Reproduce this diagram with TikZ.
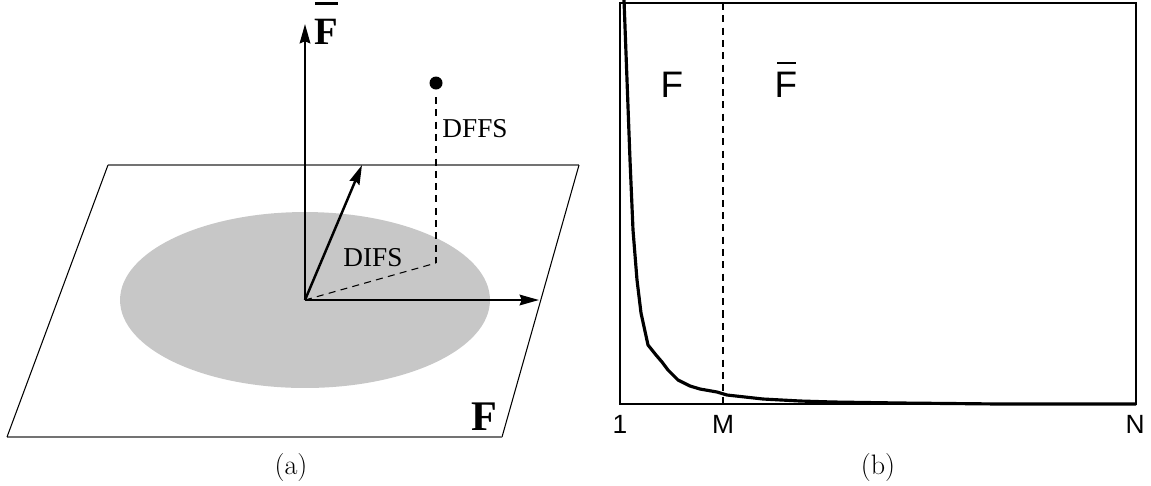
\documentclass[tikz,border=0pt]{standalone}
\usepackage{fontspec}
\newfontfamily\timesfont{Liberation Serif}
\newfontfamily\helvfont{Liberation Sans}
\usetikzlibrary{positioning,arrows.meta}

\begin{document}
\begin{tikzpicture}[
  x=0.02cm,y=-0.02cm,
  >={Stealth[length=11pt,width=6pt,inset=1.2pt]},
  axis/.style={->,line width=1.4pt},
  guide/.style={line width=0.6pt,dash pattern=on 4pt off 3pt},
  rim/.style={line width=0.6pt},
  tlbl/.style={font=\timesfont\fontsize{15.5}{18}\selectfont},
  blbl/.style={font=\timesfont\bfseries\fontsize{24}{28}\selectfont,anchor=base},
  slbl/.style={font=\helvfont\fontsize{21}{24}\selectfont,anchor=base},
  tick/.style={font=\helvfont\fontsize{15}{18}\selectfont,anchor=base},
  panelcap/.style={font=\fontsize{16}{19}\selectfont},
  spec/.style={line width=1.8pt,line join=round},
]
\useasboundingbox (0,0) rectangle (1151,485);

% (a) feature space
\coordinate (p1) at (108,165);
\coordinate (p2) at (579,165);
\coordinate (p3) at (502,437);
\coordinate (p4) at (7,437);
\draw[rim,black!55] (p1) -- (p2);
\draw[rim] (p2) -- (p3);
\draw[rim,black!55] (p3) -- (p4);
\draw[rim] (p4) -- (p1);
\fill[black!22] (305,300) ellipse [x radius=3.7cm,y radius=1.76cm];

\coordinate (o) at (305,300);
\coordinate (ytip) at (305,24);
\coordinate (xtip) at (539,300);
\coordinate (vtip) at (362,165);
\coordinate (pt) at (436,83);
\coordinate (pp) at (436,263);
\draw[axis] (o) -- (ytip);
\draw[axis] (o) -- (xtip);
\draw[axis] (o) -- (vtip);
\fill (pt) circle [radius=0.13cm];
\draw[guide] ([yshift=-8pt]pt) -- (pp);
\draw[guide] (o) -- (pp);

\node[tlbl] (dffs) at (475,129) {DFFS};
\node[tlbl] (difs) at (373,258) {DIFS};
\node[blbl,font=\timesfont\bfseries\fontsize{22}{26}\selectfont] (fbar) at (326,44)
  {\rlap{\hspace{0.02em}\rule[1.0em]{0.6em}{0.08em}}F};
\node[blbl] (fspace) at (484,430) {F};
\node[panelcap] (capa) at (291,467) {(a)};

% (b) eigenvalue spectrum
\coordinate (b1) at (620,3);
\coordinate (b2) at (1136,404);
\draw[line width=0.9pt] (b1) rectangle (b2);
\draw[line width=1.3pt] (b1 |- b2) -- (b2);
\coordinate (m1) at (723,3);
\coordinate (m2) at (723,404);
\draw[guide] (m1) -- (m2);

\draw[spec] plot coordinates {(624,0) (627,80) (630,160) (633,230) (637,280)
  (641,313) (648,345) (656,355) (662,362) (668,370) (678,380) (690,386)
  (700,389) (717,392) (727,395) (745,397) (763,399) (800,401) (833,402)
  (900,403) (1000,404) (1136,404)};

\node[slbl] (fin) at (672,97) {F};
\node[slbl] (fout) at (786,97) {\rlap{\hspace{0.07em}\rule[0.9em]{0.5em}{0.055em}}F};
\node[tick] (t1) at (620,433) {1};
\node[tick] (tm) at (723,433) {M};
\node[tick] (tn) at (1135,433) {N};
\node[panelcap] (capb) at (878,467) {(b)};
\end{tikzpicture}
\end{document}
